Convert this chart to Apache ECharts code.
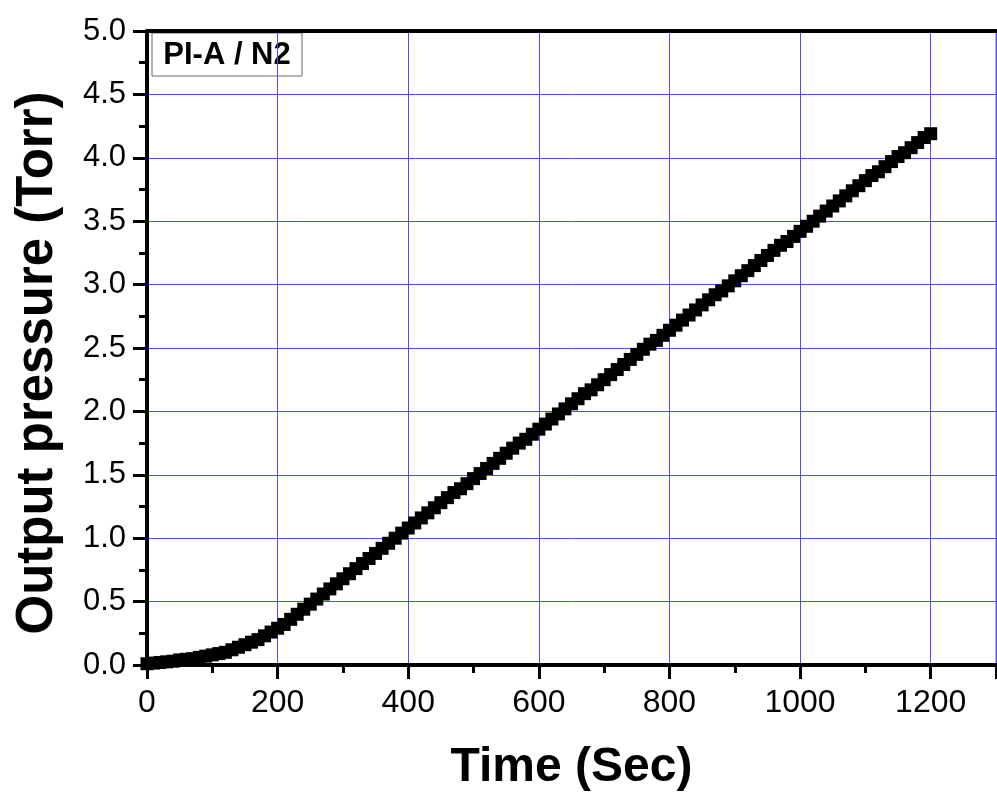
<!DOCTYPE html>
<html>
<head>
<meta charset="utf-8">
<script src="https://cdn.jsdelivr.net/npm/echarts@6/dist/echarts.min.js"></script>
<style>
  html, body { margin: 0; padding: 0; background: #ffffff; }
  #chart { width: 997px; height: 793px; }
</style>
</head>
<body>
<div id="chart"></div>
<script>
// Permeation test: output pressure rise over time, PI-A membrane with N2
const sampleLabel = 'PI-A / N2';
const sampleStepSec = 10;   // logger sampling interval, seconds

// Output pressure (Torr), one reading every 10 s from 0 s to 1200 s
const pressureTorr = [
  0.01, 0.015, 0.02, 0.025, 0.03, 0.04, 0.045, 0.05, 0.06, 0.07,
  0.08, 0.09, 0.10, 0.12, 0.14, 0.16, 0.18, 0.20, 0.23, 0.26,
  0.29, 0.32, 0.36, 0.40, 0.44, 0.48, 0.52, 0.56, 0.60, 0.64,
  0.68, 0.72, 0.76, 0.80, 0.84, 0.88, 0.92, 0.96, 1.00, 1.04,
  1.08, 1.12, 1.16, 1.20, 1.24, 1.28, 1.32, 1.36, 1.39, 1.43,
  1.47, 1.51, 1.55, 1.59, 1.63, 1.67, 1.71, 1.75, 1.78, 1.82,
  1.86, 1.90, 1.94, 1.98, 2.02, 2.06, 2.10, 2.14, 2.17, 2.21,
  2.25, 2.29, 2.33, 2.37, 2.41, 2.45, 2.49, 2.53, 2.56, 2.60,
  2.64, 2.68, 2.72, 2.76, 2.80, 2.84, 2.88, 2.92, 2.95, 2.99,
  3.03, 3.07, 3.11, 3.15, 3.19, 3.23, 3.27, 3.31, 3.34, 3.38,
  3.42, 3.46, 3.50, 3.54, 3.58, 3.62, 3.66, 3.70, 3.74, 3.78,
  3.82, 3.86, 3.89, 3.93, 3.97, 4.01, 4.04, 4.08, 4.12, 4.16,
  4.19
];

const timeSec = pressureTorr.map((_, i) => i * sampleStepSec);

const xTicks = { min: 0, max: 1300, interval: 200 };
const yTicks = { min: 0, max: 5, interval: 0.5 };

const FONT = '"Liberation Sans", Arial, "DejaVu Sans", sans-serif';
const gridColor = '#4b4bff';

const chart = echarts.init(document.getElementById('chart'), null, { renderer: 'canvas' });

const points = timeSec.map((t, i) => [t, pressureTorr[i]]);

chart.setOption({
  backgroundColor: '#ffffff',
  animation: false,
  grid: {
    left: 147, top: 31, right: 1, bottom: 128,
    outerBoundsMode: 'none',
    containLabel: false,
    show: true, borderColor: '#777777', borderWidth: 1,
    backgroundColor: 'transparent'
  },
  xAxis: [{
    type: 'value',
    min: xTicks.min, max: xTicks.max, interval: xTicks.interval,
    name: 'Time (Sec)',
    nameLocation: 'middle',
    nameGap: 79,
    nameTextStyle: { fontFamily: FONT, fontSize: 48, fontWeight: 'bold', color: '#000' },
    axisLine: { show: true, onZero: false, lineStyle: { color: '#000', width: 4 } },
    axisTick: { show: true, inside: false, length: 14, lineStyle: { color: '#000', width: 3 } },
    minorTick: { show: true, splitNumber: 2, length: 8, lineStyle: { color: '#000', width: 3 } },
    axisLabel: {
      fontFamily: FONT, fontSize: 32, color: '#000', margin: 22,
      formatter: v => (v > 1200 ? '' : String(v))
    },
    splitLine: { show: true, lineStyle: { color: gridColor, width: 1 } }
  }, {
    type: 'value',
    position: 'top',
    min: xTicks.min, max: xTicks.max, interval: xTicks.interval,
    axisLine: { show: true, onZero: false, lineStyle: { color: '#000', width: 4 } },
    axisTick: { show: false },
    axisLabel: { show: false },
    splitLine: { show: false }
  }],
  yAxis: {
    type: 'value',
    min: yTicks.min, max: yTicks.max, interval: yTicks.interval,
    axisLine: { show: true, onZero: false, lineStyle: { color: '#000', width: 4 } },
    axisTick: { show: true, inside: false, length: 14, lineStyle: { color: '#000', width: 3 } },
    minorTick: { show: true, splitNumber: 2, length: 8, lineStyle: { color: '#000', width: 3 } },
    axisLabel: {
      fontFamily: FONT, fontSize: 31, color: '#000', margin: 21,
      formatter: v => v.toFixed(1)
    },
    splitLine: { show: true, lineStyle: { color: gridColor, width: 1 } }
  },
  graphic: [
    {
      type: 'text',
      x: 38, y: 363,
      rotation: Math.PI / 2,
      style: {
        text: 'Output pressure (Torr)',
        fontFamily: FONT, fontSize: 51, fontWeight: 'bold', fill: '#000',
        align: 'center', verticalAlign: 'middle'
      }
    },
    {
      type: 'group',
      x: 152, y: 33,
      children: [
        {
          type: 'rect',
          shape: { x: 0, y: 0, width: 150, height: 43 },
          style: { fill: '#ffffff', stroke: '#666666', lineWidth: 1 }
        },
        {
          type: 'text',
          x: 75, y: 22,
          style: {
            text: sampleLabel,
            fontFamily: FONT, fontSize: 31, fontWeight: 'bold', fill: '#000',
            align: 'center', verticalAlign: 'middle'
          }
        }
      ]
    }
  ],
  series: [{
    type: 'scatter',
    data: points,
    symbol: 'rect',
    symbolSize: 13,
    itemStyle: { color: '#000000', opacity: 1 },
    clip: false
  }]
});
</script>
</body>
</html>
